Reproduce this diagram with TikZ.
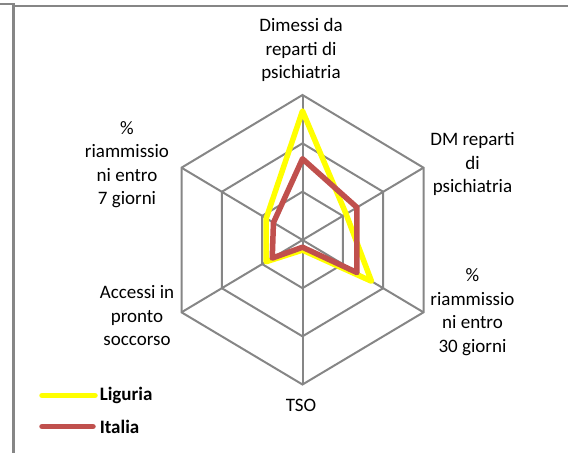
\documentclass[tikz,border=0pt]{standalone}
\usepackage{fontspec}
\setmainfont{Carlito}
\usetikzlibrary{calc}
\definecolor{grid}{RGB}{134,134,134}
\definecolor{liguria}{RGB}{255,255,0}
\definecolor{italia}{RGB}{192,80,77}
\tikzset{
  spoke/.style={grid, line width=2pt},
  axislabel/.style={align=center, inner sep=0pt, font=\fontsize{19}{23.5}\selectfont},
  series/.style={line width=5.5pt, line join=round, line cap=round},
  legendtext/.style={right, text=black, font=\fontsize{19}{23}\selectfont\bfseries},
}

\begin{document}
\begin{tikzpicture}[x=1pt, y=-1pt]
      \useasboundingbox (0,0) rectangle (568,453);
      \draw [grid, line width=2.5pt] (0,4) -- (13.5,4) -- (13.5,453);
      \draw [grid, line width=2pt] (13.5,6) -- (568,6);
      \coordinate (c) at (302.5,240);
      \foreach \v/\dx/\dy in {a/0/-145, b/121/-72.3, d/121/72.3, e/0/144.5,%
        f/-121/72.3, g/-121/-72.3}
        \coordinate (\v) at ($(c)+(\dx,\dy)$);
      \foreach \r in {0.3333, 0.6667, 1}
        \draw [spoke] ($(c)!\r!(a)$) -- ($(c)!\r!(b)$) -- ($(c)!\r!(d)$)%
        -- ($(c)!\r!(e)$) -- ($(c)!\r!(f)$) -- ($(c)!\r!(g)$) -- cycle;
      \foreach \v in {a, b, d, e, f, g}
        \draw [spoke] (c) -- (\v);
      \draw [series, liguria] ($(c)!0.89!(a)$) -- ($(c)!0.36!(b)$)%
        -- ($(c)!0.57!(d)$) -- ($(c)!0.07!(e)$) -- ($(c)!0.30!(f)$)%
        -- ($(c)!0.30!(g)$) -- cycle;
      \draw [series, italia] ($(c)!0.56!(a)$) -- ($(c)!0.45!(b)$)%
        -- ($(c)!0.45!(d)$) -- ($(c)!0.05!(e)$) -- ($(c)!0.25!(f)$)%
        -- ($(c)!0.24!(g)$) -- cycle;
      \node [axislabel] (dimessi) at (301,50) {Dimessi da\\reparti di\\psichiatria};
      \node [axislabel] (dm) at (472.5,164) {DM reparti\\di\\psichiatria};
      \node [axislabel] (r30) at (472.5,312) {\%\\riammissio\\ni entro\\30 giorni};
      \node [axislabel] (tso) at (301,405) {TSO};
      \node [axislabel] (accessi) at (137,316) {Accessi in\\pronto\\soccorso};
      \node [axislabel] (r7) at (127,164.5) {\%\\riammissio\\ni entro\\7 giorni};
      \coordinate (lg1) at (42,395.5);
      \coordinate (lg2) at (42,426.5);
      \draw [series, liguria] (lg1) -- ++(53,0)%
        node [legendtext, inner sep=2pt] (lgtext) {Liguria};
      \draw [series, italia] (lg2) -- ++(51,0)%
        node [legendtext, inner sep=4pt] (ittext) {Italia};
    \end{tikzpicture}
\end{document}
